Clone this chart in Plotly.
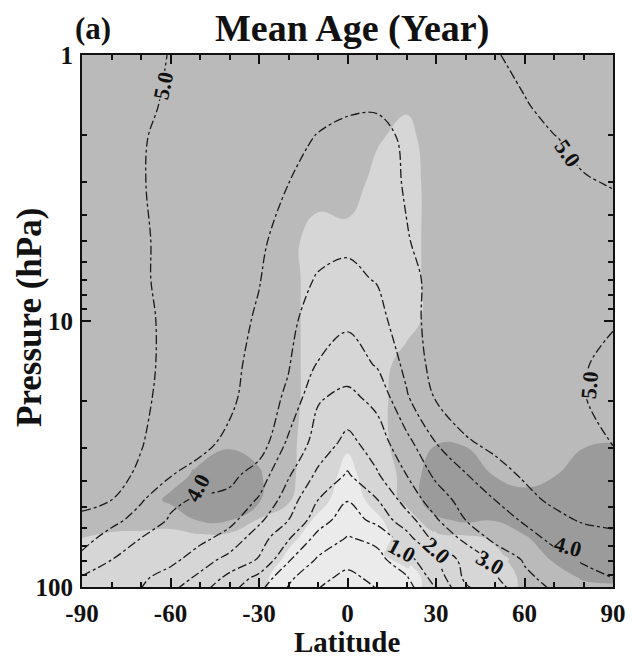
import numpy as np
import plotly.graph_objects as go

# ---------------- data ----------------
latitude = [-90, -80, -70, -60, -50, -40, -30, -20, -10, 0, 10, 20, 30, 40, 50, 60, 70, 80, 90]
pressure_hpa = [1.0, 1.55, 2.05, 3.05, 5.0, 6.95, 9.8, 14.6, 19.3, 28.7, 37.9, 47.1, 56.0, 65.4, 79.1, 92.5, 101.8]

# mean age (years), one row per pressure level, columns = latitude
mean_age = [
    [5.40, 5.30, 5.15, 4.98, 4.88, 4.80, 4.74, 4.69, 4.65, 4.62, 4.62, 4.68, 4.76, 4.86, 4.98, 5.08, 5.18, 5.25, 5.30],
    [5.35, 5.25, 5.10, 4.93, 4.82, 4.72, 4.65, 4.59, 4.55, 4.53, 4.52, 4.56, 4.65, 4.76, 4.87, 4.98, 5.08, 5.15, 5.20],
    [5.30, 5.20, 5.03, 4.90, 4.80, 4.70, 4.62, 4.55, 4.49, 4.44, 4.44, 4.53, 4.64, 4.75, 4.85, 4.93, 4.99, 5.06, 5.10],
    [5.25, 5.15, 5.02, 4.90, 4.78, 4.68, 4.60, 4.50, 4.40, 4.30, 4.35, 4.53, 4.66, 4.75, 4.83, 4.90, 4.95, 4.98, 5.01],
    [5.25, 5.15, 5.05, 4.90, 4.78, 4.66, 4.55, 4.38, 4.17, 4.08, 4.20, 4.48, 4.63, 4.72, 4.79, 4.84, 4.87, 4.89, 4.90],
    [5.25, 5.15, 5.05, 4.90, 4.78, 4.65, 4.52, 4.22, 3.96, 3.90, 4.03, 4.40, 4.60, 4.70, 4.77, 4.82, 4.85, 4.86, 4.87],
    [5.30, 5.20, 5.08, 4.92, 4.80, 4.65, 4.45, 4.13, 3.75, 3.60, 3.83, 4.32, 4.68, 4.76, 4.83, 4.88, 4.92, 4.94, 4.97],
    [5.30, 5.20, 5.08, 4.92, 4.78, 4.62, 4.35, 4.03, 3.47, 3.25, 3.54, 4.12, 4.70, 4.80, 4.87, 4.92, 4.95, 4.98, 5.08],
    [5.28, 5.18, 5.05, 4.92, 4.78, 4.60, 4.25, 3.92, 3.05, 2.88, 3.15, 3.95, 4.55, 4.75, 4.85, 4.90, 4.95, 4.99, 5.10],
    [5.22, 5.15, 5.02, 4.82, 4.62, 4.40, 4.30, 3.40, 2.80, 2.35, 2.75, 3.35, 4.00, 4.45, 4.60, 4.70, 4.78, 4.88, 5.02],
    [5.15, 5.10, 4.95, 4.52, 4.35, 4.15, 3.75, 3.05, 2.40, 1.95, 2.45, 3.00, 3.60, 3.97, 4.35, 4.55, 4.65, 4.72, 4.80],
    [5.10, 5.00, 4.55, 4.10, 3.93, 3.85, 3.45, 2.75, 2.00, 1.52, 1.98, 2.70, 3.25, 3.70, 4.00, 4.38, 4.58, 4.68, 4.72],
    [4.92, 4.65, 4.30, 3.95, 3.80, 3.65, 3.10, 2.50, 1.72, 1.25, 1.65, 2.30, 2.95, 3.50, 3.80, 4.05, 4.38, 4.55, 4.60],
    [4.70, 4.30, 4.00, 3.85, 3.65, 3.30, 2.75, 2.05, 1.35, 0.97, 1.12, 1.80, 2.70, 3.10, 3.65, 3.85, 4.10, 4.30, 4.40],
    [4.35, 4.00, 3.85, 3.65, 3.20, 2.85, 2.45, 1.55, 0.93, 0.62, 0.85, 1.30, 1.98, 2.70, 3.10, 3.55, 3.85, 4.05, 4.20],
    [3.95, 3.80, 3.60, 3.25, 2.90, 2.35, 1.85, 1.10, 0.60, 0.40, 0.60, 0.95, 1.70, 2.60, 2.95, 3.40, 3.65, 3.85, 4.00],
    [3.85, 3.70, 3.50, 3.10, 2.65, 2.15, 1.60, 0.95, 0.50, 0.30, 0.50, 0.80, 1.50, 2.40, 2.80, 3.25, 3.55, 3.75, 3.90],
]

# grey shading class (0 lightest ... 3 darkest), same grid
shade_class = [
    [2, 2, 2, 2, 2, 2, 2, 2, 2, 2, 2, 2, 2, 2, 2, 2, 2, 2, 2],
    [2, 2, 2, 2, 2, 2, 2, 2, 2, 2, 2, 1.7, 2, 2, 2, 2, 2, 2, 2],
    [2, 2, 2, 2, 2, 2, 2, 2, 2, 2, 1.67, 1.0, 2.4, 2, 2, 2, 2, 2, 2],
    [2, 2, 2, 2, 2, 2, 2, 2, 2, 2.25, 1.0, 1.0, 2.0, 2, 2, 2, 2, 2, 2],
    [2, 2, 2, 2, 2, 2, 2, 1.83, 1, 1, 1, 1, 2, 2, 2, 2, 2, 2, 2],
    [2, 2, 2, 2, 2, 2, 2, 1.85, 1, 1, 1, 1, 2, 2, 2, 2, 2, 2, 2],
    [2, 2, 2, 2, 2, 2, 2, 1.85, 1, 1, 1, 1, 2, 2, 2, 2, 2, 2, 2],
    [2, 2, 2, 2, 2, 2, 2, 1.85, 1, 1, 1, 2.0, 2, 2, 2, 2, 2, 2, 2],
    [2, 2, 2, 2, 2, 2, 2, 1.85, 1, 1, 1, 2.3, 2, 2, 2, 2, 2, 2, 2],
    [2, 2, 2, 2, 2.1, 2.3, 2.2, 1.7, 1, 0.6, 1, 2.2, 2.45, 2.4, 2.1, 2.2, 2.3, 2.4, 2.5],
    [2, 2, 2, 2.1, 2.7, 3.3, 2.6, 1.7, 0.9, 0.3, 0.9, 1.8, 3.2, 3.2, 2.45, 2.2, 2.45, 3.0, 3.2],
    [2, 2, 2.0, 2.7, 3.4, 3.3, 2.6, 1.6, 0.7, 0.2, 0.7, 1.8, 3.2, 3.3, 3.0, 2.8, 3.0, 3.2, 3.3],
    [1.7, 1.7, 1.8, 1.8, 2.6, 2.55, 1.4, 0.9, 0.4, 0.1, 0.4, 0.9, 2.3, 2.7, 2.55, 3.0, 3.2, 3.3, 3.3],
    [1.5, 1.4, 1.3, 1.2, 1.2, 1.1, 1.0, 0.6, 0.3, 0.1, 0.3, 0.7, 1.2, 1.3, 1.6, 2.4, 3.0, 3.2, 3.2],
    [1.5, 1.4, 1.3, 1.2, 1.1, 1.0, 0.8, 0.4, 0.2, 0.1, 0.2, 0.5, 0.9, 1.1, 1.3, 1.8, 2.6, 3.0, 3.0],
    [1.5, 1.4, 1.3, 1.1, 1.0, 0.9, 0.6, 0.3, 0.1, 0.05, 0.1, 0.3, 0.7, 1.0, 1.2, 1.6, 2.0, 2.6, 2.7],
    [1.5, 1.4, 1.3, 1.1, 1.0, 0.9, 0.6, 0.3, 0.1, 0.05, 0.1, 0.3, 0.7, 1.0, 1.2, 1.6, 2.0, 2.2, 2.3],
]
shade_colors = ["#ebebeb", "#d6d6d6", "#bababa", "#9b9b9b"]

# contour labels as printed: text, latitude, pressure, rotation (deg), backing shade class
label_text = ["5.0", "5.0", "5.0", "4.0", "4.0", "1.0", "2.0", "3.0"]
label_lat = [-62.5, 74.7, 82.2, -50.7, 74.7, 18.5, 30.3, 48.3]
label_p = [1.30, 2.34, 17.4, 42.4, 70.7, 72.6, 72.6, 81.2]
label_angle = [-78, 55, -85, -62, 15, 28, 42, 30]
label_shade = [2, 2, 2, 3, 3, 1, 1, 1]

x_ticks = [-90, -60, -30, 0, 30, 60, 90]
y_major_ticks = [1, 10, 100]
y_minor_ticks = [2, 3, 4, 5, 6, 7, 8, 9, 20, 30, 40, 50, 60, 70, 80, 90]

# ---------------- figure ----------------
logp = np.log10(pressure_hpa)
SERIF = "Liberation Serif, Times New Roman, serif"
INK = "#111111"

cs = [[0.0, shade_colors[0]], [1/6, shade_colors[0]], [1/6, shade_colors[1]], [0.5, shade_colors[1]],
      [0.5, shade_colors[2]], [5/6, shade_colors[2]], [5/6, shade_colors[3]], [1.0, shade_colors[3]]]

fig = go.Figure()
fig.add_trace(go.Contour(
    x=latitude, y=logp, z=shade_class,
    contours=dict(start=0.5, end=2.5, size=1, coloring="fill", showlines=False),
    colorscale=cs, showscale=False, line=dict(width=0, smoothing=1.3),
    hoverinfo="skip",
))
fig.add_trace(go.Contour(
    x=latitude, y=logp, z=mean_age,
    contours=dict(start=0.5, end=5.0, size=0.5, coloring="none"),
    line=dict(color="#1a1a1a", width=1.3, dash="dashdot", smoothing=1.0),
    showscale=False, hoverinfo="skip",
))

annotations = []
for t, la, p, ang, sh in zip(label_text, label_lat, label_p, label_angle, label_shade):
    annotations.append(dict(
        text=t, x=la, y=float(np.log10(p)), xref="x", yref="y", showarrow=False,
        textangle=ang, bgcolor=shade_colors[sh], borderpad=0,
        font=dict(family=SERIF, size=22, color=INK, weight="bold"),
    ))

L, R, T, B = 82, 19, 55, 75
W, H = 632, 662
pw, ph = W - L - R, H - T - B

def px(xp):
    return (xp - L) / pw

def py(yp):
    return (H - B - yp) / ph

annotations += [
    dict(text="Mean Age (Year)", x=px(352), y=py(29), xref="paper", yref="paper",
         xanchor="center", yanchor="middle", showarrow=False,
         font=dict(family=SERIF, size=38, color=INK, weight="bold")),
    dict(text="(a)", x=px(93), y=py(29), xref="paper", yref="paper",
         xanchor="center", yanchor="middle", showarrow=False,
         font=dict(family=SERIF, size=31, color=INK, weight="bold")),
    dict(text="Latitude", x=px(347), y=py(642), xref="paper", yref="paper",
         xanchor="center", yanchor="middle", showarrow=False,
         font=dict(family=SERIF, size=29, color=INK, weight="bold")),
    dict(text="Pressure (hPa)", x=px(29), y=py(318), xref="paper", yref="paper",
         xanchor="center", yanchor="middle", showarrow=False, textangle=-90,
         font=dict(family=SERIF, size=35, color=INK, weight="bold")),
]

tick_font = dict(family=SERIF, size=25, color=INK, weight="bold")
fig.update_layout(
    width=W, height=H,
    margin=dict(l=L, r=R, t=T, b=B),
    paper_bgcolor="white", plot_bgcolor="white",
    showlegend=False,
    xaxis=dict(
        range=[-90, 90], tickvals=x_ticks, ticktext=[str(v) for v in x_ticks],
        ticks="inside", ticklen=9, tickwidth=2, tickcolor=INK,
        minor=dict(dtick=10, ticks="inside", ticklen=5, tickwidth=1.5, tickcolor=INK),
        showline=True, linecolor=INK, linewidth=2.2, mirror="ticks",
        showgrid=False, zeroline=False, tickfont=tick_font, automargin=False,
        ticklabelstandoff=3,
    ),
    yaxis=dict(
        range=[2.0, 0.0],
        tickvals=list(np.log10(y_major_ticks)), ticktext=[str(v) for v in y_major_ticks],
        ticks="inside", ticklen=9, tickwidth=2, tickcolor=INK,
        minor=dict(tickvals=list(np.log10(y_minor_ticks)), ticks="inside", ticklen=5, tickwidth=1.5, tickcolor=INK),
        showline=True, linecolor=INK, linewidth=2.2, mirror="ticks",
        showgrid=False, zeroline=False, tickfont=tick_font, automargin=False,
        ticklabelstandoff=2,
    ),
    annotations=annotations,
)

fig.write_html("out.html")
